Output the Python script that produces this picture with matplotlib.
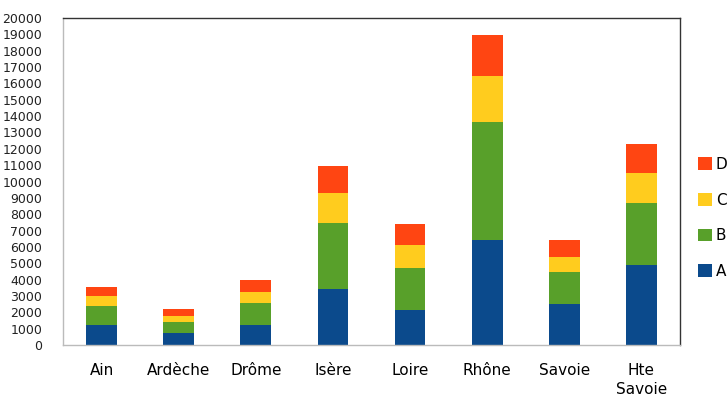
import numpy as np
import matplotlib
matplotlib.use("Agg")
import matplotlib.pyplot as plt

# Data
departements = ["Ain", "Ardèche", "Drôme", "Isère", "Loire", "Rhône", "Savoie", "Hte\nSavoie"]
serie_a = [1220, 710, 1220, 3420, 2140, 6420, 2490, 4890]
serie_b = [1180, 690, 1330, 4020, 2590, 7220, 1960, 3780]
serie_c = [600, 375, 710, 1875, 1370, 2810, 950, 1870]
serie_d = [550, 445, 715, 1635, 1320, 2530, 1020, 1750]
series_names = ["A", "B", "C", "D"]
colours = ["#0b4a8c", "#58a02a", "#ffcc1e", "#ff4512"]

plt.rc('font', family='DejaVu Sans')

fig = plt.figure(figsize=(7.28, 3.98), dpi=100)
ax = fig.add_axes([63 / 728, 53 / 398, 617 / 728, 327 / 398])

x = np.arange(len(departements))
bottom = np.zeros(len(departements))
bars = []
for name, vals, col in zip(series_names, [serie_a, serie_b, serie_c, serie_d], colours):
    b = ax.bar(x, vals, width=0.4, bottom=bottom, color=col, label=name)
    bars.append(b)
    bottom += np.array(vals)

ax.set_xlim(-0.5, len(departements) - 0.5)
ax.set_ylim(0, 20000)
ax.set_yticks(np.arange(0, 20001, 1000))
ax.set_xticks(x)
ax.set_xticklabels(departements, fontsize=11, linespacing=1.3, va='top')
ax.tick_params(axis='y', length=0, pad=15, labelsize=9, colors='#222222')
ax.tick_params(axis='x', length=0, pad=13)

for side in ['top', 'right']:
    ax.spines[side].set_color('#333333')
    ax.spines[side].set_linewidth(1.0)
for side in ['left', 'bottom']:
    ax.spines[side].set_color('#bbbbbb')
    ax.spines[side].set_linewidth(1.0)

handles = bars[::-1]
labels = series_names[::-1]
fig.legend(handles, labels, loc='center left', bbox_to_anchor=(692 / 728, 180 / 398),
           frameon=False, fontsize=11, handlelength=0.9, handleheight=0.9,
           handletextpad=0.25, labelspacing=1.35, borderaxespad=0)

fig.savefig("out.png", dpi=100)
